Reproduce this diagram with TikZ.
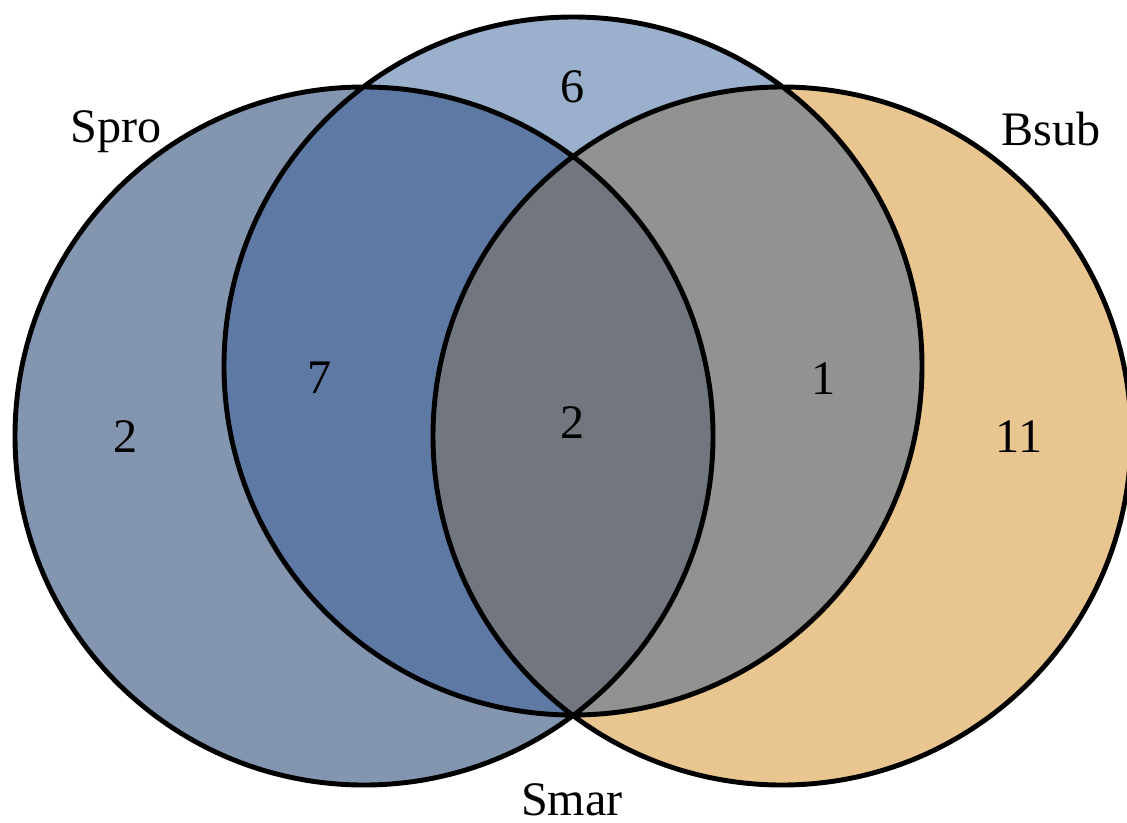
\documentclass[tikz,border=0pt]{standalone}
\usepackage{fontspec}
\setmainfont{Liberation Serif}
\definecolor{mauSpro}{HTML}{8495AF}
\definecolor{mauSmar}{HTML}{9AB0CD}
\definecolor{mauBsub}{HTML}{E9C68F}
\definecolor{mauSproSmar}{HTML}{5E79A3}
\definecolor{mauSmarBsub}{HTML}{919390}
\definecolor{mauChung}{HTML}{72767E}
\begin{document}
\begin{tikzpicture}[line join=round, line cap=round, font=\fontsize{13.7}{16}\selectfont]
	%%Tâm và bán kính các đường tròn
	\def \r{3.49}
	\coordinate (Spro) at (3.64,3.86);
	\coordinate (Smar) at (5.73,4.56);
	\coordinate (Bsub) at (7.82,3.86);
	\useasboundingbox (0,0) rectangle (11.27,8.22);
	%%Tô màu
	\fill[mauSpro] (Spro) circle (\r);
	\fill[mauBsub] (Bsub) circle (\r);
	\fill[mauSmar] (Smar) circle (\r);
	\begin{scope}
		\clip (Smar) circle (\r);
		\fill[mauSproSmar] (Spro) circle (\r);
		\fill[mauSmarBsub] (Bsub) circle (\r);
		\clip (Spro) circle (\r);
		\fill[mauChung] (Bsub) circle (\r);
	\end{scope}
	%%Viền
	\draw[line width=1.4pt] (Spro) circle (\r) (Smar) circle (\r) (Bsub) circle (\r);
	%%Nhãn
	\node[anchor=base] (tenSpro) at (1.16,6.80) {Spro};
	\node[anchor=base] (tenBsub) at (10.51,6.77) {Bsub};
	\node[anchor=base] (tenSmar) at (5.72,0.07) {Smar};
	\node[anchor=base] (soSmar) at (5.73,7.20) {6};
	\node[anchor=base] (soSpro) at (1.26,3.70) {2};
	\node[anchor=base] (soSproSmar) at (3.20,4.29) {7};
	\node[anchor=base] (soChung) at (5.73,3.84) {2};
	\node[anchor=base] (soSmarBsub) at (8.24,4.28) {1};
	\node[anchor=base] (soBsub) at (10.19,3.70) {11};
\end{tikzpicture}
\end{document}
